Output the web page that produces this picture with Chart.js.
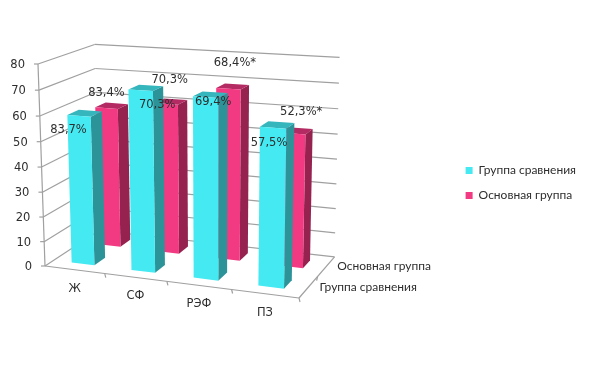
<!DOCTYPE html>
<html>
<head>
<meta charset="utf-8">
<script src="https://cdn.jsdelivr.net/npm/chart.js@4"></script>
<style>
html, body { margin: 0; padding: 0; background: #fff; }
canvas { display: block; }
</style>
</head>
<body>
<canvas id="myChart" width="593" height="366"></canvas>
<script>
const categories = ['Ж', 'СФ', 'РЭФ', 'ПЗ'];
const seriesNames = ['Группа сравнения', 'Основная группа'];
const comparisonValues = [59.5, 71, 70, 60.5];
const mainValues = [57.6, 61, 68.6, 53];
const comparisonLabels = ['83,7%', '70,3%', '69,4%', '57,5%'];
const mainLabels = ['83,4%', '70,3%', '68,4%*', '52,3%*'];

// front, side, top
const cyan = ['#45E9F2', '#2C9499', '#35B5BC'];
const pink = ['#F23A83', '#96234F', '#B32B62'];
const seriesText = [comparisonLabels, mainLabels];
const seriesColors = [cyan, pink];
// where each value label sits relative to the top of its bar
const labelShift = [
    [[-10.5, 14], [16.5, 15], [7.5, 4.5], [-4, 15]],
    [[0, -15.5], [3.5, -24], [6.5, -26], [8.5, -22]],
];

const gridColor = '#A0A0A0';
const textColor = '#2E2E2E';
const barDepth = 0.4;

// perspective box: corners of the plot in the picture
const origin = [45, 266];
const cornerU = [299, 298];
const cornerV = [38, 64];
const cornerW = [99, 230.5];
const persp = [-0.077, -0.04, 0.09];

function project(u, v, w) {
    const d = 1 + persp[0] * u + persp[1] * v + persp[2] * w;
    return [0, 1].map(i => (origin[i]
        + u * (cornerU[i] * (1 + persp[0]) - origin[i])
        + v * (cornerV[i] * (1 + persp[1]) - origin[i])
        + w * (cornerW[i] * (1 + persp[2]) - origin[i])) / d);
}

function fraction(scale, px) {
    return scale.isHorizontal()
        ? (px - scale.left) / scale.width
        : (scale.bottom - px) / scale.height;
}

function line(ctx, a, b) {
    ctx.beginPath();
    ctx.moveTo(a[0], a[1]);
    ctx.lineTo(b[0], b[1]);
    ctx.stroke();
}

function face(ctx, color, pts) {
    ctx.fillStyle = color;
    ctx.beginPath();
    pts.forEach((p, i) => i ? ctx.lineTo(p[0], p[1]) : ctx.moveTo(p[0], p[1]));
    ctx.closePath();
    ctx.fill();
}

function text(ctx, str, x, y, font, align) {
    ctx.font = font;
    ctx.textAlign = align;
    ctx.textBaseline = 'middle';
    ctx.fillStyle = textColor;
    ctx.fillText(str, x, y);
}

const box3d = {
    id: 'box3d',
    beforeDatasetsDraw(chart) {
        const { ctx, scales } = chart;
        ctx.save();
        ctx.strokeStyle = gridColor;
        ctx.lineWidth = 1.2;
        // walls
        scales.y.ticks.forEach(t => {
            const v = fraction(scales.y, scales.y.getPixelForValue(t.value));
            line(ctx, project(0, v, 0), project(0, v, 1));
            line(ctx, project(0, v, 1), project(1, v, 1));
            const p = project(0, v, 0);
            line(ctx, p, [p[0] - 4, p[1]]);
            text(ctx, String(t.value), p[0] - 13, p[1] + 1, '11.5px "DejaVu Sans"', 'right');
        });
        line(ctx, project(0, 0, 0), project(0, 1, 0));
        // floor
        line(ctx, project(0, 0, 0), project(1, 0, 0));
        line(ctx, project(1, 0, 0), project(1, 0, 1));
        categories.forEach((c, i) => {
            const tick = project((i + 1) / categories.length, 0, 0);
            line(ctx, tick, [tick[0] + 1, tick[1] + 4]);
            const mid = project(fraction(scales.x, scales.x.getPixelForTick(i)), 0, 0);
            text(ctx, c, mid[0], mid[1] + 19, '11.5px "DejaVu Sans"', 'center');
        });
        const end = project(1, 0, 0.5);
        line(ctx, end, [end[0] - 1, end[1] + 4]);
        seriesNames.forEach((s, i) => {
            const mid = project(1, 0, fraction(scales.z, scales.z.getPixelForTick(i)));
            text(ctx, s, mid[0] + 11, mid[1], '12px Lato', 'left');
        });
        ctx.restore();
    },
    beforeDatasetDraw(chart, args) {
        const { ctx, scales } = chart;
        const colors = seriesColors[args.index];
        const zMid = fraction(scales.z, scales.z.getPixelForTick(args.index));
        const w0 = zMid - barDepth / scales.z.ticks.length / 2;
        const w1 = zMid + barDepth / scales.z.ticks.length / 2;
        args.meta.data.forEach(bar => {
            const p = bar.getProps(['x', 'y', 'width']);
            const u0 = fraction(scales.x, p.x - p.width / 2);
            const u1 = fraction(scales.x, p.x + p.width / 2);
            const v = fraction(scales.y, p.y);
            face(ctx, colors[1], [project(u1, 0, w0), project(u1, 0, w1), project(u1, v, w1), project(u1, v, w0)]);
            face(ctx, colors[2], [project(u0, v, w0), project(u1, v, w0), project(u1, v, w1), project(u0, v, w1)]);
            face(ctx, colors[0], [project(u0, 0, w0), project(u1, 0, w0), project(u1, v, w0), project(u0, v, w0)]);
        });
        return false;
    },
    afterDatasetsDraw(chart) {
        const { ctx, scales } = chart;
        chart.data.datasets.forEach((ds, d) => {
            const zMid = fraction(scales.z, scales.z.getPixelForTick(d));
            const w0 = zMid - barDepth / scales.z.ticks.length / 2;
            chart.getDatasetMeta(d).data.forEach((bar, i) => {
                const p = bar.getProps(['x', 'y']);
                const top = project(fraction(scales.x, p.x), fraction(scales.y, p.y), w0);
                text(ctx, seriesText[d][i], top[0] + labelShift[d][i][0], top[1] + labelShift[d][i][1], '11.5px "DejaVu Sans"', 'center');
            });
        });
    },
};

const ctx = document.getElementById('myChart');
const chart = new Chart(ctx, {
    type: 'bar',
    data: {
        labels: categories,
        datasets: [
            { label: seriesNames[0], data: comparisonValues, backgroundColor: cyan[0], xAxisID: 'x', yAxisID: 'y' },
            { label: seriesNames[1], data: mainValues, backgroundColor: pink[0], xAxisID: 'x', yAxisID: 'y' },
        ],
    },
    options: {
        responsive: false,
        animation: false,
        grouped: false,
        barPercentage: 0.385,
        categoryPercentage: 1,
        layout: { padding: { right: 7 } },
        scales: {
            x: { type: 'category', display: false, offset: true },
            y: { type: 'linear', display: false, min: 0, max: 80, ticks: { stepSize: 10 } },
            z: { type: 'category', axis: 'x', display: false, offset: true, labels: seriesNames },
        },
        plugins: {
            tooltip: { enabled: false },
            legend: {
                position: 'right',
                labels: {
                    boxWidth: 7,
                    boxHeight: 7,
                    padding: 13,
                    color: textColor,
                    font: { family: 'Lato', size: 12 },
                },
            },
        },
    },
    plugins: [box3d],
});
</script>
</body>
</html>
